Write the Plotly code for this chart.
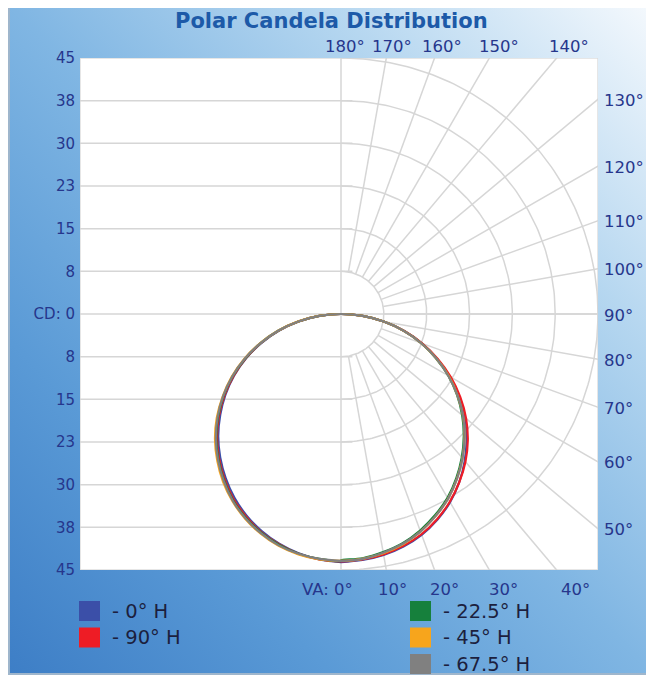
import base64
import numpy as np
import plotly.graph_objects as go

# ---------------- data ----------------
VA = [0, 5, 10, 15, 20, 25, 30, 35, 40, 45, 50, 55, 60, 65, 70, 75, 80, 85, 90]

series_names = ["0° H", "90° H", "22.5° H", "45° H", "67.5° H"]
series_colors = ["#3b4fa8", "#ee1c25", "#16803c", "#f7a51c", "#808080"]

# candela values, right half of the diagram (0..90 deg VA)
cd_0_right = [43.6, 43.4, 43.0, 42.3, 41.3, 39.9, 38.2, 36.1, 33.7, 31.1, 28.3, 25.2, 21.9, 18.5, 15.0, 11.4, 7.6, 3.8, 0.0]
cd_90_right = [43.5, 43.3, 42.9, 42.2, 41.2, 39.8, 38.1, 36.1, 33.9, 31.4, 28.6, 25.5, 22.2, 18.7, 15.1, 11.4, 7.6, 3.8, 0.0]
cd_22_right = [43.3, 43.1, 42.5, 41.7, 40.5, 39.0, 37.3, 35.2, 32.9, 30.4, 27.7, 24.8, 21.7, 18.3, 14.9, 11.3, 7.6, 3.8, 0.0]
cd_45_right = [43.4, 43.2, 42.7, 41.9, 40.7, 39.2, 37.5, 35.4, 33.1, 30.6, 27.9, 24.9, 21.8, 18.4, 14.9, 11.3, 7.6, 3.8, 0.0]
cd_67_right = [43.4, 43.2, 42.6, 41.8, 40.7, 39.2, 37.5, 35.4, 33.1, 30.6, 27.9, 24.9, 21.7, 18.4, 14.9, 11.3, 7.6, 3.8, 0.0]

# candela values, left half of the diagram (opposite plane)
cd_0_left = [43.6, 43.3, 42.7, 41.8, 40.6, 39.1, 37.3, 35.2, 32.9, 30.4, 27.6, 24.7, 21.6, 18.3, 14.8, 11.2, 7.5, 3.8, 0.0]
cd_90_left = [43.5, 43.3, 42.8, 41.9, 40.8, 39.3, 37.6, 35.5, 33.2, 30.7, 27.9, 24.9, 21.7, 18.4, 14.9, 11.3, 7.6, 3.8, 0.0]
cd_22_left = [43.4, 43.2, 42.8, 42.0, 40.9, 39.5, 37.8, 35.7, 33.4, 30.9, 28.1, 25.1, 21.9, 18.5, 15.0, 11.4, 7.6, 3.8, 0.0]
cd_45_left = [43.4, 43.3, 42.9, 42.2, 41.1, 39.7, 38.0, 36.0, 33.7, 31.2, 28.4, 25.3, 22.1, 18.7, 15.1, 11.5, 7.7, 3.9, 0.0]
cd_67_left = [43.4, 43.2, 42.8, 42.1, 41.0, 39.6, 37.9, 35.8, 33.5, 31.0, 28.2, 25.2, 22.0, 18.6, 15.0, 11.4, 7.6, 3.8, 0.0]

rights = [cd_0_right, cd_90_right, cd_22_right, cd_45_right, cd_67_right]
lefts = [cd_0_left, cd_90_left, cd_22_left, cd_45_left, cd_67_left]

# axis ticks
cd_tick_vals = [45, 37.5, 30, 22.5, 15, 7.5, 0, -7.5, -15, -22.5, -30, -37.5, -45]
cd_tick_text = ["45", "38", "30", "23", "15", "8", "CD: 0", "8", "15", "23", "30", "38", "45"]
ring_radii = [7.5, 15, 22.5, 30, 37.5, 45]
grid_angles = [10, 20, 30, 40, 50, 60, 70, 80, 90, 100, 110, 120, 130, 140, 150, 160, 170]
top_angles = [180, 170, 160, 150, 140]
right_angles = [130, 120, 110, 100, 90, 80, 70, 60, 50]
bottom_angles = [10, 20, 30, 40]

# ---------------- layout geometry ----------------
# page body has an 8px margin, so figure pixels = screen pixels - 8
OFF = 8
W, H = 654, 677
PL, PR, PT, PB = 80, 598, 58, 570          # plot box on screen
ML, MT = PL - OFF, PT - OFF
MR, MB = W - (PR - OFF), H - (PB - OFF)
XR = [-45.7, 45.0]
YR = [-45.0, 45.0]
pw = PR - PL
ph = PB - PT


def px2paper(px, py):
    """screen pixel -> paper coordinates"""
    return (px - PL) / pw, (PB - py) / ph


GRID = "#d6d6d6"
NAVY = "#26368c"
FONT = "DejaVu Sans"

fig = go.Figure()

# horizontal grid lines on the left half
hx, hy = [], []
for v in cd_tick_vals:
    if v in (45, -45):
        continue
    hx += [XR[0], XR[1] if v == 0 else 2.0, None]
    hy += [v, v, None]
hx += [0, 0, None]
hy += [YR[0], YR[1], None]
fig.add_trace(go.Scatter(x=hx, y=hy, mode="lines", line=dict(color=GRID, width=1.5),
                         hoverinfo="skip", showlegend=False))

# concentric rings (right half)
ax, ay = [], []
arc = np.radians(np.linspace(0, 180, 181))
for r in ring_radii:
    ax += list(r * np.sin(arc)) + [None]
    ay += list(-r * np.cos(arc)) + [None]
fig.add_trace(go.Scatter(x=ax, y=ay, mode="lines", line=dict(color=GRID, width=1.5),
                         hoverinfo="skip", showlegend=False))

# radial spokes
rx, ry = [], []
for a in grid_angles:
    t = np.radians(a)
    rx += [ring_radii[0] * np.sin(t), 90 * np.sin(t), None]
    ry += [-ring_radii[0] * np.cos(t), -90 * np.cos(t), None]
fig.add_trace(go.Scatter(x=rx, y=ry, mode="lines", line=dict(color=GRID, width=1.5),
                         hoverinfo="skip", showlegend=False))

# candela curves
th = np.radians(VA)
for name, col, rr, ll in zip(series_names, series_colors, rights, lefts):
    rr = np.array(rr)
    ll = np.array(ll)
    x = np.concatenate([(-ll * np.sin(th))[::-1], rr * np.sin(th)])
    y = np.concatenate([(-ll * np.cos(th))[::-1], -rr * np.cos(th)])
    fig.add_trace(go.Scatter(x=x, y=y, mode="lines", name=name,
                             line=dict(color=col, width=2.2, shape="spline"),
                             showlegend=False))

annotations = []
# title
annotations.append(dict(text="<b>Polar Candela Distribution</b>", xref="paper", yref="paper",
                        x=px2paper(331, 0)[0], y=px2paper(0, 21)[1], xanchor="center", yanchor="middle",
                        showarrow=False, font=dict(family=FONT, size=21, color="#1d5aa8")))
# top angle labels
for a in top_angles:
    xv = 46.7 * np.tan(np.radians(180 - a))
    annotations.append(dict(text=f"{a}°", x=xv, y=px2paper(0, 46)[1], xref="x", yref="paper",
                            xanchor="center", yanchor="middle", xshift=4, showarrow=False,
                            font=dict(family=FONT, size=16.5, color=NAVY)))
# right angle labels
for a in right_angles:
    yv = 45 * np.tan(np.radians(a - 90))
    annotations.append(dict(text=f"{a}°", x=1, y=yv, xref="paper", yref="y",
                            xanchor="left", yanchor="middle", xshift=4, yshift=-1, showarrow=False,
                            font=dict(family=FONT, size=16.5, color=NAVY)))
# bottom angle labels
annotations.append(dict(text="VA: 0°", x=0, y=px2paper(0, 589)[1], xref="x", yref="paper",
                        xanchor="right", yanchor="middle", xshift=14, showarrow=False,
                        font=dict(family=FONT, size=16.5, color=NAVY)))
for a in bottom_angles:
    xv = 48.3 * np.tan(np.radians(a))
    annotations.append(dict(text=f"{a}°", x=xv, y=px2paper(0, 589)[1], xref="x", yref="paper",
                            xanchor="center", yanchor="middle", xshift=3, showarrow=False,
                            font=dict(family=FONT, size=16.5, color=NAVY)))

# manual legend (two columns, square swatches)
shapes = []
leg_pos = [(79, 611), (79, 637.5), (410, 611), (410, 637.5), (410, 664)]
for (lx, ly), name, col in zip(leg_pos, series_names, series_colors):
    x0, y0 = px2paper(lx, ly + 10)
    x1, y1 = px2paper(lx + 21, ly - 10)
    shapes.append(dict(type="rect", xref="paper", yref="paper", x0=x0, y0=y0, x1=x1, y1=y1,
                       fillcolor=col, line=dict(width=0), layer="above"))
    tx, ty = px2paper(lx + 31, ly)
    annotations.append(dict(text=f"- {name}", x=tx, y=ty, xref="paper", yref="paper",
                            xanchor="left", yanchor="middle", showarrow=False,
                            font=dict(family=FONT, size=19.5, color="#1c1f3e")))

# white plot area with light border (above background image)
shapes.append(dict(type="rect", xref="x", yref="y", x0=XR[0], x1=XR[1], y0=YR[0], y1=YR[1],
                   fillcolor="white", line=dict(color="#dedede", width=1.5), layer="below"))

# gradient panel background
svg = ("<svg xmlns='http://www.w3.org/2000/svg' width='646' height='671' viewBox='0 0 646 671' "
       "preserveAspectRatio='none'><defs><linearGradient id='g' x1='0' y1='1' x2='1' y2='0'>"
       "<stop offset='0' stop-color='#3d7ec6'/><stop offset='0.25' stop-color='#5a9ad6'/>"
       "<stop offset='0.5' stop-color='#80b6e3'/><stop offset='0.75' stop-color='#b6d7f0'/>"
       "<stop offset='1' stop-color='#f5f9fd'/></linearGradient></defs>"
       "<rect x='1' y='1' width='644' height='669' fill='url(#g)' stroke='#9fb6cc' stroke-width='2'/></svg>")
src = "data:image/svg+xml;base64," + base64.b64encode(svg.encode()).decode()
px0, py0 = px2paper(8, 4)
px1, py1 = px2paper(654, 675)
images = [dict(source=src, xref="paper", yref="paper", x=px0, y=py0, sizex=px1 - px0, sizey=py0 - py1,
               xanchor="left", yanchor="top", sizing="stretch", layer="below")]

fig.update_layout(
    width=W, height=H,
    margin=dict(l=ML, r=MR, t=MT, b=MB, pad=0),
    paper_bgcolor="white", plot_bgcolor="white",
    xaxis=dict(range=XR, showgrid=False, zeroline=False, showticklabels=False, ticks="",
               showline=False, fixedrange=True),
    yaxis=dict(range=YR, showgrid=False, zeroline=False, tickmode="array", tickvals=cd_tick_vals,
               ticktext=cd_tick_text, ticks="", showline=False, ticklabelstandoff=4,
               tickfont=dict(family=FONT, size=15, color=NAVY), fixedrange=True),
    annotations=annotations, shapes=shapes, images=images,
    showlegend=False,
)

fig.write_html("out.html")
